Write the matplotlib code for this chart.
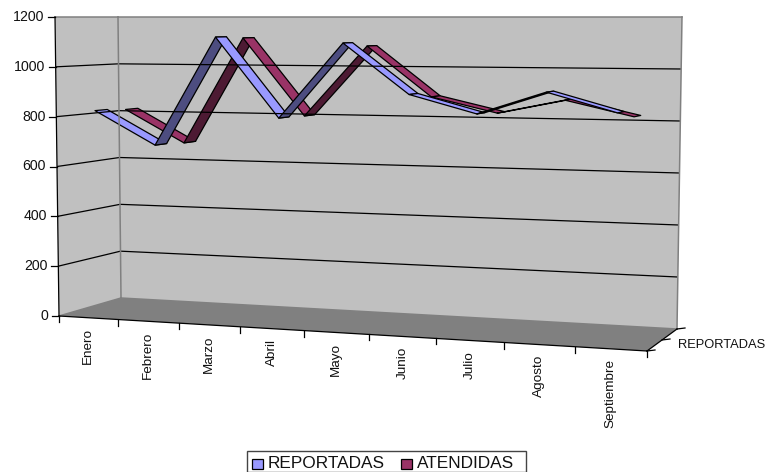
#!/usr/bin/env python3
import numpy as np
import matplotlib
matplotlib.use("Agg")
import matplotlib.pyplot as plt
from matplotlib.patches import Polygon, Rectangle

plt.rcParams['font.family'] = ['Liberation Sans', 'DejaVu Sans']

months = ["Enero", "Febrero", "Marzo", "Abril", "Mayo", "Junio", "Julio", "Agosto", "Septiembre"]
reportadas = [823, 690, 1121, 807, 1100, 906, 837, 922, 850]
atendidas = [816, 683, 1115, 803, 1085, 887, 828, 882, 823]
y_ticks = [0, 200, 400, 600, 800, 1000, 1200]
y_max = 1200

# Pixel corners of the 3D box, (category side, depth side, height side)
FRONT_LEFT_BOTTOM = np.array([59.0, 316.0])
FRONT_LEFT_TOP = np.array([55.0, 17.0])
BACK_LEFT_BOTTOM = np.array([121.0, 298.0])
BACK_LEFT_TOP = np.array([118.0, 17.0])
FRONT_RIGHT_BOTTOM = np.array([647.0, 351.0])
FRONT_RIGHT_TOP = np.array([650.0, 17.0])
BACK_RIGHT_BOTTOM = np.array([677.0, 329.0])
BACK_RIGHT_TOP = np.array([682.0, 17.0])

PERSPECTIVE = 1.12


def project(u, d, v):
    # u: 0-1 along the categories, d: 0-1 into the depth, v: 0-1 up the value axis
    s = u / (u + PERSPECTIVE * (1 - u))
    bottom = (1 - d) * ((1 - s) * FRONT_LEFT_BOTTOM + s * FRONT_RIGHT_BOTTOM) \
        + d * ((1 - s) * BACK_LEFT_BOTTOM + s * BACK_RIGHT_BOTTOM)
    top = (1 - d) * ((1 - s) * FRONT_LEFT_TOP + s * FRONT_RIGHT_TOP) \
        + d * ((1 - s) * BACK_LEFT_TOP + s * BACK_RIGHT_TOP)
    return bottom + v * (top - bottom)


def draw_ribbon(ax, values, depth, light, dark, half_width=0.1):
    n = len(values)
    front = [project((i + 0.5) / n, depth - half_width, val / y_max) for i, val in enumerate(values)]
    back = [project((i + 0.5) / n, depth + half_width, val / y_max) for i, val in enumerate(values)]
    for i in range(n - 1):
        seg = front[i + 1] - front[i]
        wid = back[i] - front[i]
        # y grows downward here, so the sign tells top face from underside
        cross = seg[0] * wid[1] - seg[1] * wid[0]
        color = light if cross < 0 else dark
        ax.add_patch(Polygon([front[i], front[i + 1], back[i + 1], back[i]], closed=True,
                             facecolor=color, edgecolor='black', linewidth=0.9, joinstyle='round'))


fig = plt.figure(figsize=(7.68, 4.72), dpi=100)
ax = fig.add_axes([0, 0, 1, 1])
ax.set_xlim(0, 768)
ax.set_ylim(472, 0)
ax.axis('off')

# walls and floor
ax.add_patch(Polygon([FRONT_LEFT_TOP, BACK_LEFT_TOP, BACK_LEFT_BOTTOM, FRONT_LEFT_BOTTOM],
                     facecolor='#C0C0C0', edgecolor='none'))
ax.add_patch(Polygon([BACK_LEFT_TOP, BACK_RIGHT_TOP, BACK_RIGHT_BOTTOM, BACK_LEFT_BOTTOM],
                     facecolor='#C0C0C0', edgecolor='none'))
ax.add_patch(Polygon([FRONT_LEFT_BOTTOM, BACK_LEFT_BOTTOM, BACK_RIGHT_BOTTOM, FRONT_RIGHT_BOTTOM],
                     facecolor='#808080', edgecolor='none'))

# gridlines across both walls
for tick in y_ticks[1:-1]:
    v = tick / y_max
    pts = np.array([project(0, 0, v), project(0, 1, v), project(1, 1, v)])
    ax.plot(pts[:, 0], pts[:, 1], color='black', lw=0.9, solid_capstyle='butt')

# wall edges
for a, b in [(FRONT_LEFT_TOP, BACK_LEFT_TOP), (BACK_LEFT_TOP, BACK_RIGHT_TOP),
             (BACK_LEFT_TOP, BACK_LEFT_BOTTOM), (BACK_RIGHT_TOP, BACK_RIGHT_BOTTOM),
             (FRONT_LEFT_BOTTOM, BACK_LEFT_BOTTOM), (BACK_LEFT_BOTTOM, BACK_RIGHT_BOTTOM)]:
    ax.plot([a[0], b[0]], [a[1], b[1]], color='#808080', lw=1.1)

# axis lines
for a, b in [(FRONT_LEFT_TOP, FRONT_LEFT_BOTTOM), (FRONT_LEFT_BOTTOM, FRONT_RIGHT_BOTTOM),
             (FRONT_RIGHT_BOTTOM, BACK_RIGHT_BOTTOM)]:
    ax.plot([a[0], b[0]], [a[1], b[1]], color='black', lw=0.9)

# series, back one first
draw_ribbon(ax, atendidas, 0.75, '#993366', '#4D1A33')
draw_ribbon(ax, reportadas, 0.25, '#9999FF', '#4D4D80')

# value axis ticks and labels
for tick in y_ticks:
    p = project(0, 0, tick / y_max)
    ax.plot([p[0] - 7, p[0]], [p[1], p[1]], color='black', lw=0.9)
    ax.text(p[0] - 11, p[1], str(tick), ha='right', va='center', fontsize=10.2, color='#111111')

# category ticks and rotated labels
n = len(months)
for i in range(n + 1):
    p = project(i / n, 0, 0)
    ax.plot([p[0], p[0]], [p[1], p[1] + 6], color='black', lw=0.9)
for i, month in enumerate(months):
    p = project((i + 0.5) / n, 0, 0)
    ax.text(p[0], p[1] + 10.5, month, rotation=90, ha='center', va='top', fontsize=9.7, color='#111111')

# depth axis ticks and the one label that fits
for d in [0, 0.5, 1]:
    p = project(1, d, 0)
    ax.plot([p[0], p[0] + 8], [p[1], p[1] - 1], color='black', lw=0.9)
ax.text(678, 345, "REPORTADAS", ha='left', va='center', fontsize=9.3, color='#111111')

# legend box
ax.add_patch(Rectangle((247, 451), 279, 20.5, facecolor='white', edgecolor='#444444', lw=1.0))
ax.add_patch(Rectangle((252, 459), 11, 10, facecolor='#9999FF', edgecolor='black', lw=0.9))
ax.text(268, 463.5, "REPORTADAS", ha='left', va='center', fontsize=12.4, color='#111111')
ax.add_patch(Rectangle((401, 459), 11, 10, facecolor='#993366', edgecolor='black', lw=0.9))
ax.text(417, 463.5, "ATENDIDAS", ha='left', va='center', fontsize=12.4, color='#111111')

fig.savefig("out.png", dpi=100)
